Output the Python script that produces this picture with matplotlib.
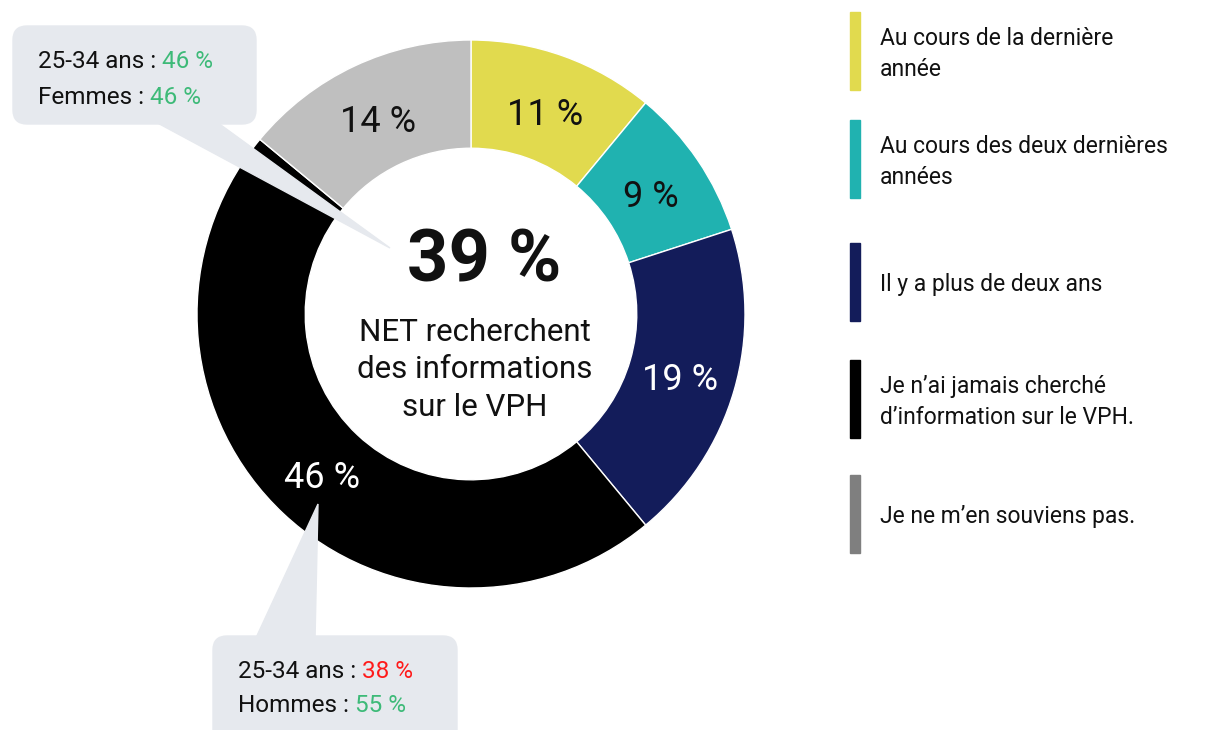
import matplotlib.pyplot as plt
from matplotlib.patches import FancyBboxPatch, Polygon, Rectangle
import numpy as np

plt.rcParams['font.family'] = ['Roboto', 'DejaVu Sans']

# data
categories = ["Au cours de la dernière\nannée",
              "Au cours des deux dernières\nannées",
              "Il y a plus de deux ans",
              "Je n’ai jamais cherché\nd’information sur le VPH.",
              "",
              "Je ne m’en souviens pas."]
values = [11, 9, 19, 46, 1, 14]
labels = ["11 %", "9 %", "19 %", "46 %", "", "14 %"]
slice_colors = ["#e1da4e", "#20b2b0", "#131c5a", "#000000", "#000000", "#bfbfbf"]
label_colors = ["#111111", "#111111", "white", "white", "white", "#111111"]
legend_names = [categories[i] for i in (0, 1, 2, 3, 5)]
legend_colors = ["#e1da4e", "#20b2b0", "#131c5a", "#000000", "#7f7f7f"]
net_value = "39 %"
net_text = "NET recherchent\ndes informations\nsur le VPH"
callout_top = [("25-34 ans : ", "46 %", "#3dba78"), ("Femmes : ", "46 %", "#3dba78")]
callout_bottom = [("25-34 ans : ", "38 %", "#ff1a1a"), ("Hommes : ", "55 %", "#3dba78")]

W, H = 1209, 730
fig = plt.figure(figsize=(W / 100, H / 100), dpi=100)

# donut axes placed in pixels: center (471, 314), radius 274
cx, cy, R = 471, 314, 274
ax = fig.add_axes([(cx - R) / W, (H - cy - R) / H, 2 * R / W, 2 * R / H])
wedges, _ = ax.pie(values, colors=slice_colors, startangle=90, counterclock=False,
                   radius=1, wedgeprops=dict(width=0.395, edgecolor="white", linewidth=1))
ax.set_xlim(-1, 1)
ax.set_ylim(-1, 1)
ax.axis("off")

for w, lab, col in zip(wedges, labels, label_colors):
    if not lab:
        continue
    ang = np.deg2rad((w.theta1 + w.theta2) / 2)
    ax.text(0.795 * np.cos(ang), 0.795 * np.sin(ang) - 0.02, lab, ha="center",
            va="center", fontsize=26, color=col)

# overlay in pixel coords
ov = fig.add_axes([0, 0, 1, 1], facecolor="none")
ov.set_xlim(0, W)
ov.set_ylim(H, 0)
ov.axis("off")

box_col = "#e6e9ee"

# top callout
ov.add_patch(Polygon([(152, 120), (214, 120), (390, 248)], closed=True, color=box_col, zorder=2))
ov.add_patch(FancyBboxPatch((13 + 14, 26 + 14), 243 - 28, 98 - 28,
                            boxstyle="round,pad=14", color=box_col, zorder=2))
# bottom callout
ov.add_patch(Polygon([(255, 640), (315, 640), (318, 504)], closed=True, color=box_col, zorder=2))
ov.add_patch(FancyBboxPatch((213 + 14, 636 + 14), 244 - 28, 120 - 28,
                            boxstyle="round,pad=14", color=box_col, zorder=2))


def callout_lines(x, ys, lines):
    for y, (a, b, c) in zip(ys, lines):
        t = ov.text(x, y, a, fontsize=17.5, color="#111111", va="center", ha="left", zorder=3)
        ov.annotate(b, xy=(1, 0), xycoords=t, va="bottom", ha="left",
                    fontsize=17.5, color=c, zorder=3)


callout_lines(38, [61, 97], callout_top)
callout_lines(238, [671, 706], callout_bottom)

# center text
ov.text(484, 262, net_value, fontsize=52, fontweight="bold", ha="center", va="center",
        color="#111111", zorder=3)
ov.text(475, 370, net_text, fontsize=22.5, ha="center", va="center", color="#111111",
        linespacing=1.38, zorder=3)

# legend
bar_tops = [12, 120, 243, 360, 475]
for top, name, col in zip(bar_tops, legend_names, legend_colors):
    ov.add_patch(Rectangle((850, top), 10, 78, color=col))
    ov.text(880, top + 42, name, fontsize=16.5, ha="left", va="center", color="#111111",
            linespacing=1.45)

fig.savefig("out.png", dpi=100)
